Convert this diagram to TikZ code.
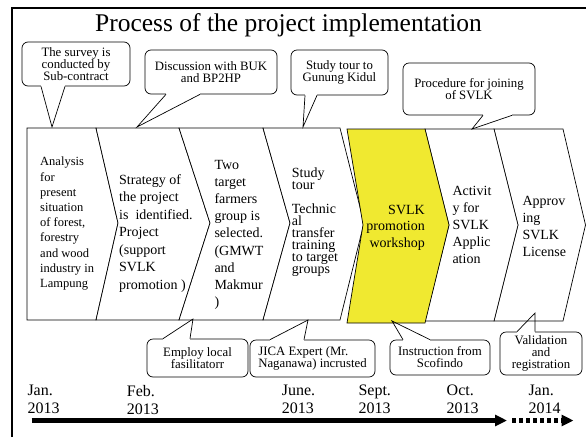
\documentclass[tikz,border=0pt]{standalone}
\usepackage{fontspec}
\setmainfont{Liberation Serif}
\usetikzlibrary{arrows.meta}
\definecolor{svlkyellow}{RGB}{240,233,48}
\newcommand\taildown[4]{%
  \fill[white] ([yshift=1.5pt]#2,0 |- #1.south) rectangle ([yshift=-0.6pt]#3,0 |- #1.south);
  \draw[calltail] (#2,0 |- #1.south) -- (#4) -- (#3,0 |- #1.south);}
\newcommand\tailup[4]{%
  \fill[white] ([yshift=-1.5pt]#2,0 |- #1.north) rectangle ([yshift=0.6pt]#3,0 |- #1.north);
  \draw[calltail] (#2,0 |- #1.north) -- (#4) -- (#3,0 |- #1.north);}
\begin{document}
\begin{tikzpicture}[x=1pt,y=-1pt,
  chev/.style={draw=black,line width=0.7pt,fill=white,line join=miter},
  callbox/.style={draw=black,line width=0.7pt,fill=white,rounded corners=6pt,inner sep=0pt,align=center,
    font={\fontsize{12.8}{12}\selectfont\lineskiplimit=-20pt}},
  calltail/.style={draw=black,line width=0.7pt,line join=miter},
  chevtext/.style={inner sep=0pt,anchor=north west,align=left},
  datetext/.style={inner sep=0pt,anchor=north west,align=left,font=\fontsize{16}{18}\selectfont},
  timeline/.style={line width=4.3pt,-{Triangle[length=12pt,width=11pt]}},
]
\useasboundingbox (0,0) rectangle (586,437);
\draw[line width=2pt] (12,437) -- (12,8) -- (586,8);
\node[font=\fontsize{25.5}{30}\selectfont,anchor=base,inner sep=0pt] (title) at (288.5,31) {Process of the project implementation};

% chevrons
\draw[chev] (27,128) -- (96,128) -- (118,223) -- (96,320) -- (27,320) -- cycle;
\draw[chev] (96,128) -- (179,128) -- (210,223) -- (179,320) -- (96,320) -- (118,223) -- cycle;
\draw[chev] (179,128) -- (263,128) -- (290,223) -- (263,320) -- (179,320) -- (210,223) -- cycle;
\draw[chev] (263,128) -- (340,128) -- (364,223) -- (340,320) -- (263,320) -- (290,223) -- cycle;
\draw[chev] (494,129) -- (563,129) -- (585.5,225) -- (563,321) -- (494,321) -- (518,225) -- cycle;
\draw[chev] (425,129) -- (494,129) -- (518,225) -- (494,321) -- (425,321) -- (449,225) -- cycle;
\draw[chev,fill=svlkyellow] (347,129) -- (425,129) -- (449,225) -- (425,323) -- (347,323) -- (363,225) -- cycle;

% chevron texts
\node[chevtext,font=\fontsize{12.5}{15.2}\selectfont] (t1) at (40,157) {Analysis\\for\\present\\situation\\of forest,\\forestry\\and wood\\industry in\\Lampung};
\node[chevtext,font=\fontsize{14}{17.5}\selectfont] (t2) at (119,174.4) {Strategy of\\the project\\is\ \ identified.\\Project\\(support\\SVLK\\promotion )};
\node[chevtext,font=\fontsize{14}{17.2}\selectfont] (t3) at (214.3,159.7) {Two\\target\\farmers\\group is\\selected.\\(GMWT\\and\\Makmur\\)};
\node[chevtext,font={\fontsize{14}{12}\selectfont\lineskiplimit=-20pt}] (t4) at (291.7,167.7) {Study\\tour\\[12pt]Technic\\al\\transfer\\training\\to target\\groups};
\node[chevtext,anchor=north east,align=right,font=\fontsize{14}{16.7}\selectfont] (t5) at (425,204.7) {SVLK\\promotion\\workshop};
\node[chevtext,font=\fontsize{14}{17.1}\selectfont] (t6) at (452.3,186.1) {Activit\\y for\\SVLK\\Applic\\ation};
\node[chevtext,font=\fontsize{14}{17.2}\selectfont] (t7) at (522.3,195.7) {Approv\\ing\\SVLK\\License};

% callouts
\coordinate (p1) at (52,127);
\coordinate (p2) at (137,127);
\coordinate (p3) at (303,127);
\coordinate (p4) at (472,129);
\coordinate (p5) at (193,319);
\coordinate (p6) at (308,320);
\coordinate (p7) at (392,321);
\coordinate (p8) at (535,313);

\node[callbox,minimum width=108,minimum height=44] (c1) at (76,64) {The survey is\\conducted by\\Sub-contract};
\taildown{c1}{41}{65}{p1}
\node[callbox,minimum width=132,minimum height=44] (c2) at (211,72) {Discussion with BUK\\and BP2HP};
\taildown{c2}{166}{200}{p2}
\node[callbox,minimum width=97,minimum height=45] (c3) at (339.5,72.5) {Study tour to\\Gunung Kidul};
\taildown{c3}{305}{317}{p3}
\node[callbox,minimum width=132,minimum height=52] (c4) at (469,89) {Procedure for joining\\of SVLK};
\taildown{c4}{483}{512}{p4}

\node[callbox,minimum width=101,minimum height=38] (c5) at (197.5,358) {Employ local\\fasilitatorr};
\tailup{c5}{163}{190}{p5}
\node[callbox,align=left,minimum width=125,minimum height=37] (c6) at (312.5,358.5) {JICA Expert (Mr.\\Naganawa) incrusted};
\tailup{c6}{270}{304}{p6}
\node[callbox,minimum width=100,minimum height=35] (c7) at (440,357.5) {Instruction from\\Scofindo};
\tailup{c7}{403}{430}{p7}
\node[callbox,minimum width=82,minimum height=43] (c8) at (541,353.5) {Validation\\and\\registration};
\tailup{c8}{517}{535}{p8}

% dates
\node[datetext] (d1) at (27.3,384.8) {Jan.\\2013};
\node[datetext] (d2) at (126.7,384.8) {Feb.\\2013};
\node[datetext] (d3) at (281.7,384.8) {June.\\2013};
\node[datetext] (d4) at (358.3,384.8) {Sept.\\2013};
\node[datetext] (d5) at (446.5,384.8) {Oct.\\2013};
\node[datetext] (d6) at (528.3,384.8) {Jan.\\2014};

% timeline
\coordinate (a0) at (31.7,420.5);
\coordinate (a1) at (507,420.5);
\coordinate (a2) at (512,420.5);
\coordinate (a3) at (573.5,420.5);
\draw[timeline] (a0) -- (a1);
\draw[timeline,dash pattern=on 4pt off 3pt] (a2) -- (a3);
\end{tikzpicture}
\end{document}
